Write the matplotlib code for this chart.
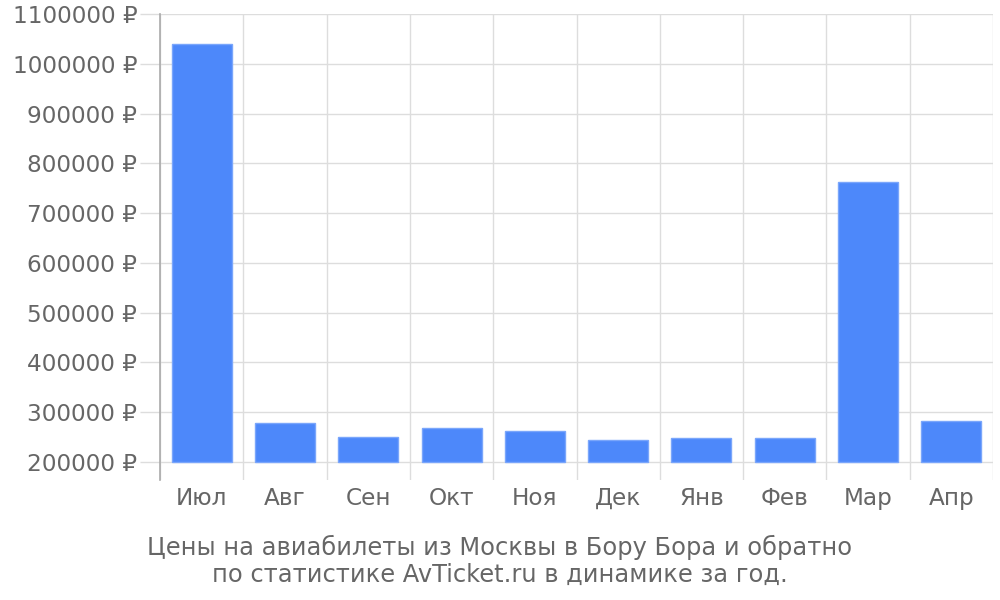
import numpy as np
import matplotlib.pyplot as plt
from matplotlib.ticker import FuncFormatter

months = ['Июл', 'Авг', 'Сен', 'Окт', 'Ноя', 'Дек', 'Янв', 'Фев', 'Мар', 'Апр']
prices = [1040000, 278000, 250000, 268000, 262000, 244000, 248000, 248000, 762000, 282000]
title = 'Цены на авиабилеты из Москвы в Бору Бора и обратно\nпо статистике AvTicket.ru в динамике за год.'

plt.rcParams['font.family'] = ['DejaVu Sans']
text_col = '#666666'
grid_col = '#dddddd'

fig = plt.figure(figsize=(10, 6), dpi=100)
ax = fig.add_axes([0.16, 0.2, 0.833, 0.7767])

x = np.arange(len(months))
base = 200000
ax.bar(x, np.array(prices) - base, bottom=base, width=0.72,
       color='#4d88fa', edgecolor='#7aa6fb', linewidth=1, zorder=3)

ax.set_xlim(-0.5, len(months) - 0.5)
ax.set_ylim(163800, 1100000)

ax.set_yticks(np.arange(200000, 1100001, 100000))
ax.yaxis.set_major_formatter(FuncFormatter(lambda v, p: f'{int(v)} ₽'))
ax.set_xticks(x)
ax.set_xticklabels(months)
ax.set_xticks(np.arange(-0.5, len(months)), minor=True)

ax.grid(axis='y', which='major', color=grid_col, linewidth=1, zorder=0)
ax.grid(axis='x', which='minor', color=grid_col, linewidth=1, zorder=0)

# tick length in points: 20 px at 100 dpi
ax.tick_params(axis='y', which='major', length=14.4, color=grid_col, width=1,
               pad=2, labelsize=16.7, labelcolor=text_col)
ax.tick_params(axis='x', which='major', length=0, pad=18, labelsize=16.7, labelcolor=text_col)
ax.tick_params(axis='x', which='minor', length=0)
for lab in ax.get_xticklabels():
    lab.set_va('baseline')

for s in ['top', 'right', 'bottom']:
    ax.spines[s].set_visible(False)
ax.spines['left'].set_color('#aaaaaa')
ax.spines['left'].set_linewidth(1.2)

fig.text(0.5, 0.065, title, ha='center', va='center', fontsize=17.4,
         color=text_col, linespacing=1.12)

fig.savefig('out.png', dpi=100)
